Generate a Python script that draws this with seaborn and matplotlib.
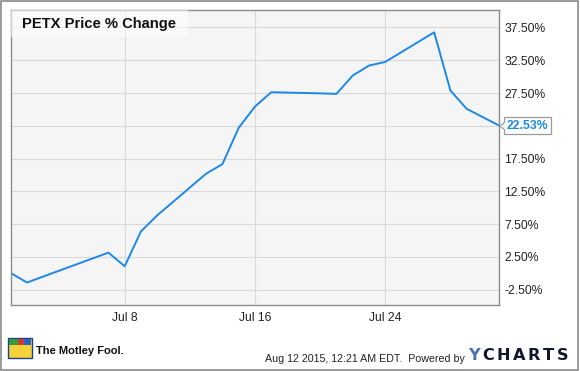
import matplotlib
matplotlib.use("Agg")
import matplotlib.pyplot as plt
from matplotlib.patches import Rectangle, Polygon
from matplotlib.font_manager import FontProperties
import seaborn as sns
import pandas as pd

# ---- data ----
dates = ["2015-07-01", "2015-07-02", "2015-07-07", "2015-07-08", "2015-07-09",
         "2015-07-10", "2015-07-13", "2015-07-14", "2015-07-15", "2015-07-16",
         "2015-07-17", "2015-07-20", "2015-07-21", "2015-07-22", "2015-07-23",
         "2015-07-24", "2015-07-27", "2015-07-28", "2015-07-29", "2015-07-31"]
pct_change = [0.06, -1.40, 3.16, 1.08, 6.41,
              8.85, 15.20, 16.66, 22.20, 25.44,
              27.63, 27.45, 27.37, 30.17, 31.69,
              32.25, 36.76, 27.88, 25.09, 22.53]
ytick_values = [-2.5, 2.5, 7.5, 12.5, 17.5, 22.5, 27.5, 32.5, 37.5]
xtick_dates = ["2015-07-08", "2015-07-16", "2015-07-24"]
xtick_labels = ["Jul 8", "Jul 16", "Jul 24"]
title = "PETX Price % Change"
last_label = "22.53%"
footer_text = "Aug 12 2015, 12:21 AM EDT.  Powered by"
brand = "YCHARTS"
fool_text = "The Motley Fool."

df = pd.DataFrame({"date": pd.to_datetime(dates), "pct": pct_change})

W, H = 580, 371
LINE = "#1e88e5"

sns.set_theme(style="whitegrid")
plt.rcParams["font.family"] = ["Liberation Sans", "DejaVu Sans"]

fig = plt.figure(figsize=(W / 100, H / 100), dpi=100)
fig.patch.set_facecolor("white")

def fx(px):
    return px / W

def fy(py):
    return 1 - py / H

left, right, top, bottom = 10.7, 499.3, 10.3, 305.0
ax = fig.add_axes([fx(left), fy(bottom), fx(right) - fx(left), (bottom - top) / H])
ax.set_facecolor("#f5f5f5")

sns.lineplot(data=df, x="date", y="pct", color=LINE, linewidth=1.4, ax=ax)

ax.set_xlim(df["date"].iloc[0], df["date"].iloc[-1])
ax.set_ylim(-4.83, 40.12)

last_y = df["pct"].iloc[-1]
ax.yaxis.tick_right()
ax.set_yticks(ytick_values)
# the tick label nearest the last value is covered by the callout in the reference
ax.set_yticklabels(["" if abs(v - last_y) < 1.0 else f"{v:.2f}%" for v in ytick_values])
ax.set_xticks(pd.to_datetime(xtick_dates))
ax.set_xticklabels(xtick_labels)
ax.set_xlabel("")
ax.set_ylabel("")
ax.tick_params(axis="both", length=0, labelsize=8.7, colors="#222222")
ax.tick_params(axis="y", pad=3.5)
ax.tick_params(axis="x", pad=5)

ax.grid(True, color="#d9d9d9", linewidth=0.8)
for s in ax.spines.values():
    s.set_color("#8c8c8c")
    s.set_linewidth(1.0)

# title box
fig.patches.append(Rectangle((fx(left), fy(36.7)), fx(187.7) - fx(left), (36.7 - top) / H,
                             transform=fig.transFigure, facecolor="white", alpha=0.55,
                             edgecolor="none", zorder=3))
fig.text(fx(21.7), fy(24.0), title, fontsize=10.6, fontweight="bold", color="#111111",
         ha="left", va="center", zorder=4)

# last value callout
last_x = df["date"].iloc[-1]
ax.annotate(last_label, xy=(last_x, last_y), xytext=(5.3, 0), textcoords="offset points",
            ha="left", va="center", fontsize=8.8, fontweight="bold", color=LINE,
            bbox=dict(boxstyle="square,pad=0.2", facecolor="white", edgecolor="#9a9a9a",
                      linewidth=0.9),
            annotation_clip=False, zorder=5)
ty = 126.0
fig.patches.append(Polygon([[fx(499.8), fy(ty)], [fx(504.3), fy(ty - 3.5)], [fx(504.3), fy(ty + 3.5)]],
                           closed=True, transform=fig.transFigure, facecolor="white",
                           edgecolor="#9a9a9a", linewidth=0.8, zorder=6))
fig.patches.append(Rectangle((fx(503.8), fy(ty + 3.0)), 1.5 / W, 6.0 / H, transform=fig.transFigure,
                             facecolor="white", edgecolor="none", zorder=7))

# footer: Motley Fool logo imitation
fig.patches.append(Rectangle((fx(8), fy(358)), 24 / W, 20 / H, transform=fig.transFigure,
                             facecolor="#f4d23c", edgecolor="#1b3f8f", linewidth=1.0))
fig.patches.append(Rectangle((fx(9), fy(345)), 9 / W, 6 / H, transform=fig.transFigure,
                             facecolor="#3a9a3a", edgecolor="none"))
fig.patches.append(Rectangle((fx(18), fy(345)), 6 / W, 6 / H, transform=fig.transFigure,
                             facecolor="#d23a2a", edgecolor="none"))
fig.patches.append(Rectangle((fx(24), fy(345)), 7 / W, 6 / H, transform=fig.transFigure,
                             facecolor="#2a62c8", edgecolor="none"))
fig.text(fx(35.5), fy(350.5), fool_text, fontsize=8.0, fontweight="bold", color="#111111",
         ha="left", va="center")

# footer date text
fig.text(fx(465), fy(358.5), footer_text, fontsize=7.65, color="#222222", ha="right", va="center")

# YCHARTS brand, letter spaced using measured glyph boxes
fp = FontProperties(family="DejaVu Sans", weight="bold", size=11.6)
renderer = fig.canvas.get_renderer()
letters = []
for i, ch in enumerate(brand):
    t = fig.text(0, fy(355.5), ch, fontproperties=fp,
                 color="#4a6fb5" if i == 0 else "#15152a", ha="left", va="center")
    letters.append(t)
widths = [t.get_window_extent(renderer).width for t in letters]
gap = (100.0 - sum(widths)) / (len(brand) - 1)
xpos = 468.0
for t, w in zip(letters, widths):
    t.set_x(fx(xpos))
    xpos += w + gap

# outer border
fig.patches.append(Rectangle((fx(0.5), fy(369.5)), (578.3 - 0.5) / W, (369.5 - 0.5) / H,
                             transform=fig.transFigure, facecolor="none",
                             edgecolor="#8a8a8a", linewidth=1.2, zorder=10))

fig.savefig("out.png", dpi=100, facecolor="white")
